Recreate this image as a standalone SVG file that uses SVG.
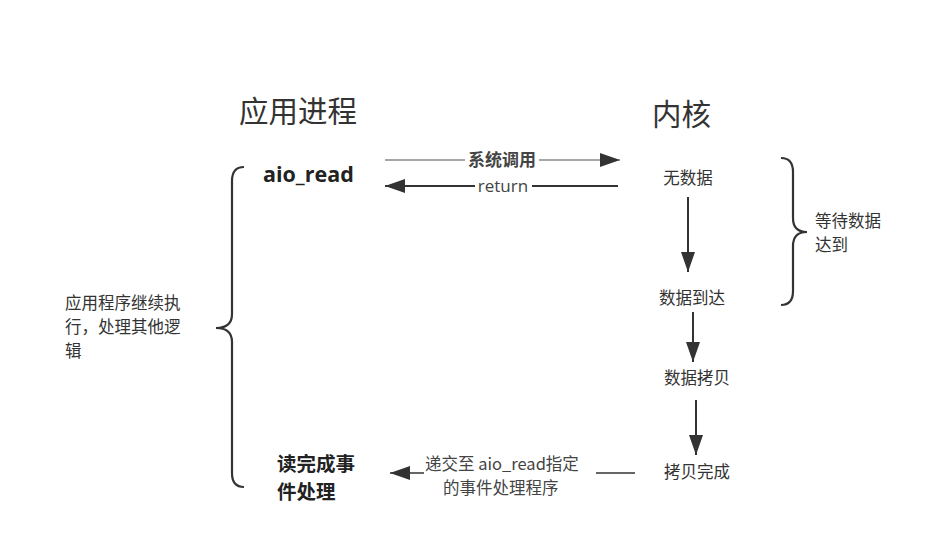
<svg xmlns="http://www.w3.org/2000/svg" width="941" height="560" viewBox="0 0 941 560">
<style>
text{font-family:"Noto Sans CJK SC","Liberation Sans",sans-serif;fill:#333}
.t{font-size:29.5px}
.n{font-size:16.5px}
.b{font-size:19.5px;font-weight:bold;fill:#222}
.br{stroke:#333;stroke-width:2.2;fill:none}
</style>
<defs>
<marker id="ahl" viewBox="0 0 20 14" refX="20" refY="7" markerWidth="20" markerHeight="14" markerUnits="userSpaceOnUse" orient="auto"><path d="M0,0L20,7L0,14z" fill="#333"/></marker>
</defs>
<g id="title-app"><text class="t" x="239" y="122">应用进程</text></g>
<g id="title-kernel"><text class="t" x="652" y="125">内核</text></g>
<g id="aio-read"><text class="b" x="263" y="182" style="font-family:'Open Sans','Liberation Sans',sans-serif;font-size:21.5px">aio_read</text></g>
<g id="no-data"><text class="n" x="688" y="184" text-anchor="middle">无数据</text></g>
<g id="data-arrive"><text class="n" x="692" y="304" text-anchor="middle">数据到达</text></g>
<g id="data-copy"><text class="n" x="697" y="384" text-anchor="middle">数据拷贝</text></g>
<g id="copy-done"><text class="n" x="697" y="478" text-anchor="middle">拷贝完成</text></g>
<g id="read-done"><text class="b" x="277" y="471">读完成事</text><text class="b" x="277" y="499">件处理</text></g>
<g id="wait-brace"><path class="br" d="M781,158 Q793,158 793,172 L793,218 Q793,232 807,232 Q793,232 793,246 L793,291 Q793,305 781,305"/><text class="n" x="815" y="227">等待数据</text><text class="n" x="815" y="251">达到</text></g>
<g id="app-brace"><path class="br" d="M244,167 Q232,167 232,181 L232,314 Q232,328 216,328 Q232,328 232,342 L232,473 Q232,487 244,487"/><text class="n" x="65" y="309">应用程序继续执</text><text class="n" x="65" y="333">行，处理其他逻</text><text class="n" x="65" y="357">辑</text></g>
<g id="connectors">
<line x1="385" y1="160" x2="620" y2="160" stroke="#888" stroke-width="1.5" marker-end="url(#ahl)"/>
<rect x="465" y="150" width="74" height="20" fill="#fff"/>
<text x="502" y="166" text-anchor="middle" style="font-size:17px;font-weight:bold;fill:#444">系统调用</text>
<line x1="618" y1="186" x2="385" y2="186" stroke="#333" stroke-width="2" marker-end="url(#ahl)"/>
<rect x="475" y="177" width="57" height="18" fill="#fff"/>
<text x="503" y="192" text-anchor="middle" style="font-family:'Open Sans','Liberation Sans',sans-serif;font-size:17px;fill:#444">return</text>
<line x1="688" y1="197" x2="688" y2="272" stroke="#333" stroke-width="2" marker-end="url(#ahl)"/>
<line x1="693" y1="312" x2="693" y2="362" stroke="#333" stroke-width="2" marker-end="url(#ahl)"/>
<line x1="696" y1="400" x2="696" y2="455" stroke="#333" stroke-width="2" marker-end="url(#ahl)"/>
<line x1="635" y1="473" x2="390" y2="473" stroke="#333" stroke-width="1.5" marker-end="url(#ahl)"/>
<rect x="424" y="455" width="172" height="42" fill="#fff"/>
<text x="425" y="470" style="font-size:16.5px;fill:#444">递交至 aio_read指定</text>
<text x="443" y="494" style="font-size:16.5px;fill:#444">的事件处理程序</text>
</g>
</svg>
